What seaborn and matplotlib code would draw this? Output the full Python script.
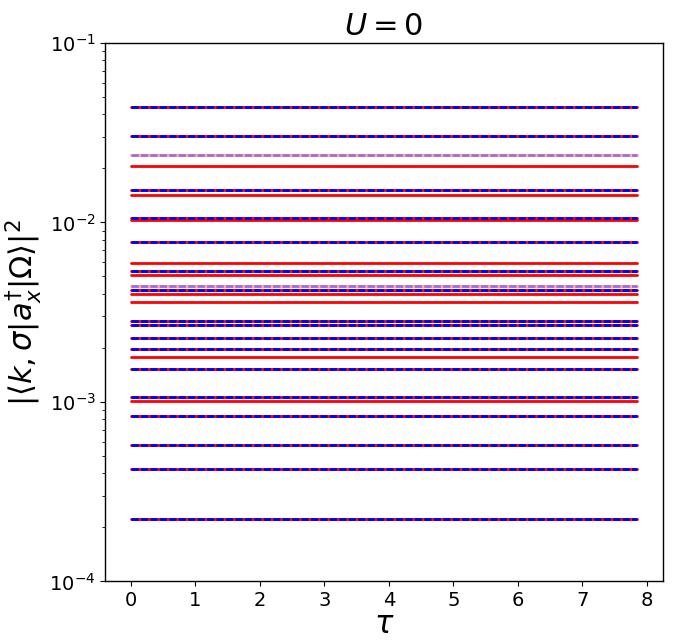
import numpy as np
import pandas as pd
import matplotlib
matplotlib.use("Agg")
import matplotlib.pyplot as plt
import seaborn as sns

# time span of every curve
tau_span = [0.0, 7.85]

# levels where exact (red solid) and approximate (blue dashed) coincide
levels_both = [0.0442, 0.0303, 0.0151, 0.01057, 0.0078, 0.00536, 0.00421,
               0.00284, 0.00269, 0.00228, 0.00197, 0.00152, 0.00106,
               0.000838, 0.000573, 0.000421, 0.000222]
# levels seen only in red
levels_red = [0.0207, 0.01426, 0.01038, 0.00596, 0.00508, 0.00401,
              0.00359, 0.00178, 0.00101]
# faint (single-state) levels
levels_pale = [0.0237, 0.00445]


def frame(levels):
    rows = []
    for i, v in enumerate(levels):
        for t in tau_span:
            rows.append({"tau": t, "amp": v, "id": i})
    return pd.DataFrame(rows)


sns.set_style("ticks")
plt.rcParams.update({
    "font.family": ["DejaVu Sans"],
    "text.color": "black",
    "axes.labelcolor": "black",
    "xtick.color": "black",
    "ytick.color": "black",
    "axes.edgecolor": "black",
    "mathtext.fontset": "dejavusans",
})

fig = plt.figure(figsize=(6.79, 6.41), dpi=100)
ax = fig.add_axes([0.155, 0.093, 0.821, 0.840])

dash = (0, (2.6, 0.8))
df_both = frame(levels_both)
df_red = frame(levels_red)
df_pale = frame(levels_pale)

sns.lineplot(data=df_both, x="tau", y="amp", units="id", estimator=None,
             color="red", lw=2.0, ax=ax, legend=False)
sns.lineplot(data=df_red, x="tau", y="amp", units="id", estimator=None,
             color="red", lw=2.0, ax=ax, legend=False)
sns.lineplot(data=df_pale, x="tau", y="amp", units="id", estimator=None,
             color="red", lw=2.0, alpha=0.35, ax=ax, legend=False)
sns.lineplot(data=df_both, x="tau", y="amp", units="id", estimator=None,
             color="blue", lw=2.0, linestyle=dash, ax=ax, legend=False)
sns.lineplot(data=df_pale, x="tau", y="amp", units="id", estimator=None,
             color="blue", lw=2.0, alpha=0.35, linestyle=dash, ax=ax,
             legend=False)

ax.set_yscale("log")
ax.set_ylim(1e-4, 1e-1)
ax.set_xlim(-0.3925, 8.2425)
ax.set_xticks(range(0, 9))
ax.tick_params(axis="both", which="major", labelsize=14)
ax.set_title(r"$U=0$", fontsize=22)
ax.set_xlabel(r"$\tau$", fontsize=22, labelpad=0)
ax.set_ylabel(r"$|\langle k,\sigma|a_x^{\dagger}|\Omega\rangle|^2$", fontsize=22)
for s in ax.spines.values():
    s.set_visible(True)
    s.set_linewidth(1.0)

fig.savefig("out.png", dpi=100)
